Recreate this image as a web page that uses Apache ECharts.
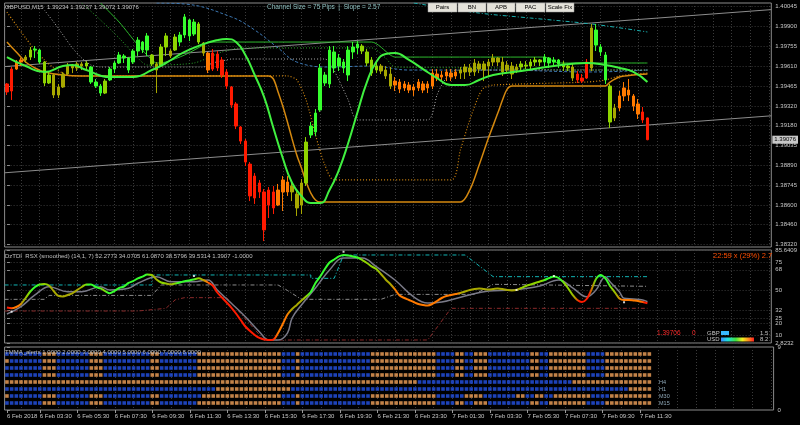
<!DOCTYPE html>
<html><head><meta charset="utf-8">
<script src="https://cdn.jsdelivr.net/npm/echarts@6/dist/echarts.min.js"></script>
<style>html,body{margin:0;padding:0;background:#000;}#c{width:800px;height:425px;}</style>
</head><body><div id="c"></div>
<script>
// ---------- DATA ----------
const opens = [1.39480,1.39429,1.39588,1.39639,1.39654,1.39675,1.39726,1.39726,1.39639,1.39487,
1.39545,1.39400,1.39458,1.39552,1.39610,1.39596,1.39625,1.39610,1.39603,1.39494,
1.39465,1.39414,1.39509,1.39588,1.39632,1.39683,1.39668,1.39639,1.39719,1.39784,
1.39726,1.39690,1.39625,1.39610,1.39748,1.39719,1.39726,1.39784,1.39835,1.39944,
1.39842,1.39915,1.39777,1.39704,1.39588,1.39697,1.39654,1.39567,1.39458,1.39335,
1.39168,1.39066,1.38899,1.38812,1.38762,1.38697,1.38602,1.38697,1.38602,1.38697,
1.38769,1.38697,1.38682,1.38602,1.38762,1.39110,1.39132,1.39291,1.39545,1.39480,
1.39712,1.39610,1.39639,1.39545,1.39712,1.39741,1.39755,1.39712,1.39654,1.39581,
1.39610,1.39581,1.39552,1.39472,1.39494,1.39451,1.39472,1.39436,1.39451,1.39480,
1.39451,1.39465,1.39552,1.39530,1.39538,1.39559,1.39538,1.39559,1.39567,1.39596,
1.39567,1.39625,1.39581,1.39610,1.39639,1.39668,1.39639,1.39581,1.39610,1.39581,
1.39603,1.39617,1.39610,1.39639,1.39654,1.39639,1.39668,1.39639,1.39654,1.39625,
1.39610,1.39603,1.39552,1.39523,1.39523,1.39596,1.39871,1.39748,1.39690,1.39465,
1.39233,1.39306,1.39393,1.39436,1.39393,1.39335,1.39277,1.39234];
const highs = [1.39487,1.39603,1.39654,1.39668,1.39690,1.39748,1.39755,1.39733,1.39646,1.39567,
1.39552,1.39480,1.39567,1.39632,1.39625,1.39639,1.39639,1.39646,1.39610,1.39516,
1.39480,1.39516,1.39603,1.39646,1.39712,1.39697,1.39675,1.39733,1.39820,1.39791,
1.39849,1.39697,1.39639,1.39769,1.39849,1.39733,1.39842,1.39857,1.39987,1.39951,
1.39951,1.39929,1.39784,1.39712,1.39733,1.39719,1.39675,1.39588,1.39465,1.39349,
1.39175,1.39081,1.38914,1.38834,1.38784,1.38718,1.38733,1.38740,1.38755,1.38812,
1.38812,1.38769,1.38718,1.38791,1.39095,1.39204,1.39298,1.39625,1.39567,1.39755,
1.39755,1.39697,1.39661,1.39755,1.39784,1.39791,1.39769,1.39733,1.39675,1.39639,
1.39625,1.39610,1.39603,1.39530,1.39516,1.39501,1.39494,1.39480,1.39516,1.39501,
1.39501,1.39588,1.39588,1.39574,1.39588,1.39588,1.39588,1.39603,1.39625,1.39625,
1.39661,1.39646,1.39646,1.39661,1.39697,1.39675,1.39675,1.39646,1.39639,1.39625,
1.39646,1.39646,1.39661,1.39675,1.39661,1.39697,1.39675,1.39675,1.39661,1.39646,
1.39625,1.39625,1.39574,1.39552,1.39661,1.39915,1.39915,1.39769,1.39712,1.39480,
1.39335,1.39429,1.39494,1.39516,1.39407,1.39371,1.39313,1.39237];
const lows = [1.39400,1.39364,1.39581,1.39610,1.39632,1.39654,1.39668,1.39625,1.39465,1.39480,
1.39378,1.39378,1.39451,1.39545,1.39559,1.39574,1.39581,1.39588,1.39480,1.39451,
1.39393,1.39407,1.39501,1.39559,1.39625,1.39632,1.39559,1.39625,1.39683,1.39704,
1.39683,1.39610,1.39414,1.39603,1.39683,1.39668,1.39719,1.39755,1.39813,1.39791,
1.39828,1.39769,1.39683,1.39559,1.39574,1.39574,1.39523,1.39443,1.39306,1.39153,
1.39045,1.38885,1.38631,1.38610,1.38653,1.38341,1.38508,1.38537,1.38595,1.38559,
1.38668,1.38631,1.38523,1.38537,1.38740,1.39088,1.39103,1.39277,1.39465,1.39451,
1.39559,1.39574,1.39559,1.39501,1.39661,1.39697,1.39697,1.39610,1.39538,1.39559,
1.39552,1.39516,1.39443,1.39429,1.39414,1.39429,1.39414,1.39393,1.39429,1.39414,
1.39414,1.39443,1.39501,1.39501,1.39501,1.39501,1.39516,1.39516,1.39516,1.39538,
1.39538,1.39559,1.39501,1.39538,1.39610,1.39610,1.39538,1.39559,1.39516,1.39559,
1.39574,1.39588,1.39588,1.39610,1.39610,1.39610,1.39596,1.39610,1.39596,1.39574,
1.39574,1.39501,1.39487,1.39487,1.39516,1.39574,1.39719,1.39683,1.39480,1.39161,
1.39211,1.39284,1.39356,1.39356,1.39284,1.39226,1.39197,1.39072];
const closes = [1.39422,1.39588,1.39639,1.39654,1.39675,1.39726,1.39733,1.39639,1.39487,1.39545,
1.39400,1.39458,1.39552,1.39610,1.39596,1.39625,1.39610,1.39632,1.39494,1.39465,
1.39414,1.39501,1.39588,1.39632,1.39690,1.39668,1.39581,1.39719,1.39798,1.39726,
1.39828,1.39625,1.39581,1.39748,1.39828,1.39683,1.39820,1.39835,1.39966,1.39828,
1.39929,1.39784,1.39704,1.39581,1.39704,1.39596,1.39545,1.39465,1.39327,1.39175,
1.39066,1.38914,1.38668,1.38653,1.38697,1.38422,1.38711,1.38581,1.38711,1.38784,
1.38697,1.38740,1.38581,1.38762,1.39059,1.39175,1.39269,1.39596,1.39487,1.39726,
1.39596,1.39668,1.39596,1.39726,1.39748,1.39769,1.39719,1.39632,1.39559,1.39610,
1.39574,1.39538,1.39465,1.39501,1.39443,1.39480,1.39436,1.39458,1.39494,1.39436,
1.39480,1.39559,1.39523,1.39545,1.39567,1.39530,1.39567,1.39581,1.39603,1.39567,
1.39632,1.39588,1.39625,1.39639,1.39668,1.39639,1.39567,1.39617,1.39552,1.39603,
1.39625,1.39610,1.39639,1.39654,1.39639,1.39675,1.39632,1.39654,1.39625,1.39603,
1.39596,1.39523,1.39509,1.39501,1.39639,1.39886,1.39762,1.39712,1.39509,1.39204,
1.39306,1.39393,1.39451,1.39400,1.39320,1.39262,1.39219,1.39076];
// trend state of each bar (-2 strong down ... 2 strong up)
const trendState = [-2,-2,-1,-1,0,1,2,2,1,1, 0,0,0,0,0,0,0,1,2,2, 2,1,2,2,2,2,2,2,2,2,
2,1,0,1,1,0,1,2,2,2, 2,1,0,-1,-2,-2,-2,-2,-2,-2, -2,-2,-2,-2,-2,-2,-2,-2,-1,-1,
-1,0,0,0,1,2,2,2,2,2, 2,2,2,2,2,2,1,1,1,1, 0,0,0,-1,-1,-1,-1,-1,-1,-1,
-1,-1,-1,-1,-1,-1,-1,0,0,0, 0,0,0,0,0,0,0,0,0,0, 1,1,1,1,1,2,2,2,2,1,
1,0,-2,-2,-2,0,2,2,2,1, 0,-1,-1,-1,-1,-1,-2,-2];

// main-panel indicator lines: [bar, price]
const smaGreen = [[0,1.39675],[4,1.39610],[8,1.39567],[12,1.39610],[14,1.39617],[17,1.39581],[22,1.39530],[27,1.39530],[31,1.39581],[34,1.39632],[38,1.39712],[42,1.39769],[45,1.39798],[47,1.39806],[49,1.39784],[51,1.39690],[53,1.39545],[55,1.39386],[57,1.39161],[59,1.38943],[61,1.38762],[63,1.38668],[65,1.38617],[67,1.38617],[69,1.38711],[71,1.38856],[73,1.39052],[75,1.39277],[77,1.39494],[79,1.39639],[81,1.39697],[83,1.39704],[86,1.39654],[89,1.39588],[92,1.39523],[95,1.39472],[98,1.39472],[101,1.39509],[104,1.39545],[110,1.39574],[117,1.39610],[124,1.39632],[128,1.39617],[131,1.39596],[134,1.39567],[137,1.39494]];
const orangeSolid = [[0,1.39784],[2,1.39712],[4,1.39639],[6,1.39596],[8,1.39567],[12,1.39545],[16,1.39538],[56,1.39538],[57,1.39516],[58,1.39422],[59,1.39320],[60,1.39204],[61,1.39081],[62,1.38965],[63,1.38870],[64,1.38769],[65,1.38689],[66,1.38639],[67,1.38624],[97,1.38624],[99,1.38711],[101,1.38892],[103,1.39088],[105,1.39269],[106,1.39364],[107,1.39443],[108,1.39465],[128,1.39465],[129,1.39494],[131,1.39530],[134,1.39545],[137,1.39552]];
const orangeDotted = [[0,1.40001],[2,1.39907],[4,1.39813],[6,1.39726],[8,1.39654],[10,1.39596],[12,1.39559],[14,1.39538],[60,1.39538],[62,1.39509],[64,1.39364],[66,1.39110],[68,1.38892],[70,1.38784],[95,1.38784],[97,1.39001],[99,1.39219],[101,1.39400],[102,1.39451],[104,1.39472],[124,1.39494],[128,1.39509],[131,1.39538],[137,1.39559]];
const grayDotted = [[8,1.40016],[10,1.39929],[12,1.39835],[14,1.39741],[16,1.39668],[18,1.39617],[20,1.39603],[42,1.39603],[44,1.39632],[47,1.39654],[48,1.39661],[68,1.39661],[69,1.39639],[71,1.39509],[73,1.39364],[75,1.39219],[90,1.39219],[92,1.39400],[93,1.39472],[95,1.39567],[97,1.39581],[137,1.39581]];
const thinGreen = [[20,1.40067],[24,1.39929],[28,1.39762],[31,1.39654],[32,1.39632],[34,1.39639],[38,1.39690],[42,1.39762],[43,1.39784],[78,1.39784],[82,1.39690],[83,1.39675],[115,1.39675],[118,1.39632],[137,1.39632]];
const greenDotted = [[16,1.40067],[20,1.39944],[24,1.39813],[28,1.39668],[30,1.39617],[40,1.39632],[46,1.39712],[50,1.39741],[78,1.39741],[81,1.39668],[83,1.39603],[105,1.39596],[120,1.39581],[137,1.39581]];
const blueDashed = [[32,1.40067],[38,1.40060],[48,1.39966],[53,1.39871],[58,1.39741],[62,1.39639],[69,1.39603],[78,1.39610],[86,1.39581],[105,1.39581],[125,1.39567],[137,1.39581]];
const cyanDashDot = [[87,1.40067],[101,1.39994],[112,1.39958],[125,1.39915],[137,1.39857]];
const channelUpper = [[-0.5,1.39606],[163.5,1.40019]];
const channelLower = [[-0.5,1.38836],[163.5,1.39249]];
const priceTicks = [1.40045,1.39900,1.39755,1.39610,1.39465,1.39320,1.39180,1.39035,1.38890,1.38745,1.38600,1.38460,1.38320];

// RSX panel
const rsx = [34.4,33.7,34.9,37.6,42.9,48.7,52.7,54.9,55.4,54.0,
49.1,44.7,44.2,45.6,47.1,50.0,52.7,54.9,54.9,52.7,
51.4,49.1,47.1,49.1,51.8,53.1,56.3,58.0,60.3,62.0,
63.8,63.4,59.4,56.7,55.8,55.1,55.8,56.7,57.9,58.5,
59.4,60.4,58.9,56.7,54.0,47.8,43.3,38.9,34.4,29.1,
23.3,17.5,13.5,10.0,7.3,5.9,5.5,5.9,11.7,19.7,
28.2,33.1,36.7,40.7,44.2,48.2,56.3,62.0,68.7,74.5,
77.2,79.9,81.2,80.7,79.9,79.0,76.7,74.1,71.0,68.7,
64.3,59.4,55.4,50.5,45.1,42.9,41.1,39.3,37.6,36.7,
36.2,37.6,40.2,42.9,44.7,45.6,46.5,47.4,48.7,50.0,
50.9,51.4,50.9,50.5,50.9,51.4,50.9,50.0,49.6,50.0,
51.8,53.6,54.9,56.3,57.6,58.9,60.7,62.0,60.7,57.1,
51.8,45.6,41.1,39.3,42.0,50.0,59.8,63.4,60.3,53.6,
48.2,42.5,41.1,41.1,40.7,40.2,39.3,38.2];
const rsxSignal = [[0,28.6],[3,35.2],[6,45.6],[9,53.0],[13,48.5],[16,48.5],[20,53.0],[22,50.0],[26,51.5],[28,56.0],[32,61.9],[35,57.4],[40,57.4],[43,58.9],[45,50.0],[48,38.2],[51,26.2],[54,12.9],[56,5.5],[58,5.5],[60,11.7],[61,25.1],[63,36.7],[66,51.8],[69,67.8],[72,78.5],[76,78.5],[79,70.8],[83,58.9],[87,43.8],[90,38.4],[93,39.3],[98,44.7],[103,49.1],[108,50.0],[114,53.6],[118,58.9],[121,52.0],[124,44.0],[126,50.0],[128,61.9],[129,57.4],[131,48.5],[132,42.6],[134,42.0],[136,41.1],[137,39.6]];
const rsxTurns = [[1,30.7],[40,62.5],[72,84.1],[109,50.0],[117,62.5],[132,39.1]];
const levelCyan = [[-0.5,54.5],[31,54.5],[31,63.4],[65,63.4],[65,60.4],[70,60.4],[72,81.2],[98,81.2],[104,61.9],[137,61.9]];
const levelGray = [[-0.5,41.7],[8,41.7],[9,45.2],[31,45.2],[33,54.5],[58,54.5],[60,49.6],[63,41.7],[80,41.7],[83,46.1],[100,46.1],[104,55.1],[137,53.3]];
const levelRed = [[-0.5,31.3],[28,31.3],[34,33.7],[36,41.3],[38,43.2],[47,43.2],[55,5.5],[90,5.5],[95,33.7],[137,33.7]];
const rsxTicks = [85.6409,75,68,50,32,25,20,10,2.8232];

// TMMA panel: 8 rows of run-length states (b = blue, o = orange)
const tmmaRows = [
 'b8 o3 b7 o3 b10 o2 b8 o18 b3 o1 b15 o14 b4 o2 b2 o3 b9 o2 b2 o8 b4 o10',
 'o1 b7 o3 b7 o3 b10 o2 b8 o18 b3 o1 b15 o14 b4 o2 b2 o3 b9 o2 b2 o8 b4 o10',
 'b8 o3 b7 o3 b10 o2 b8 o18 b3 o1 b15 o14 b4 o2 b2 o3 b9 o2 b2 o8 b4 o10',
 'b8 o3 b7 o3 b10 o2 b8 o18 b3 o1 b15 o14 b4 o2 b2 o3 b9 o2 b2 o8 b4 o10',
 'o88 b33 o17',
 'b45 o16 b72 o5',
 'o1 b7 o3 b7 o3 b10 o2 b9 o17 b3 o1 b15 o14 b6 o4 b7 o2 b2 o2 b2 o8 b4 o9',
 'b8 o3 b7 o3 b10 o2 b8 o18 b3 o1 b15 o14 b4 o2 b2 o3 b9 o2 b2 o8 b4 o10'
];
const tmmaRowNames = ['', '', '', '', 'H4', 'H1', 'M30', 'M15'];

// time axis labels
const labelBars = [0,7,15,23,31,39,47,55,63,71,79,87,95,103,111,119,127,135];
const timeLabels = ['6 Feb 2018','6 Feb 03:30','6 Feb 05:30','6 Feb 07:30','6 Feb 09:30','6 Feb 11:30','6 Feb 13:30','6 Feb 15:30','6 Feb 17:30','6 Feb 19:30','6 Feb 21:30','6 Feb 23:30','7 Feb 01:30','7 Feb 03:30','7 Feb 05:30','7 Feb 07:30','7 Feb 09:30','7 Feb 11:30'];

// ---------- CHART ----------
const FONT = 'Liberation Sans, Arial, sans-serif';
const N = closes.length;
const SLOTS = 164;
const stateColors = {'-2':'#ff1a00','-1':'#ff7a00','0':'#a8a800','1':'#8fd400','2':'#36ff2e'};
const gridTicks = []; for (let v = 3; v < SLOTS; v += 4) gridTicks.push(v);
const labelMap = {}; labelBars.forEach((b, k) => labelMap[b] = timeLabels[k]);

const candleData = closes.map((c, i) => {
  const col = stateColors[trendState[i]];
  return {value: [i, opens[i], c, lows[i], highs[i]], itemStyle: {color: col, color0: col, borderColor: col, borderColor0: col, borderWidth: 1}};
});
const rsxData = rsx.map((v, i) => [i, v]);
const rsxStops = rsx.map((v, i) => ({offset: i / (N - 1), color: stateColors[trendState[i]]}));
const lastClose = closes[N - 1];

const blueSq = [], orangeSq = [];
tmmaRows.forEach((s, r) => {
  let i = 0;
  s.split(' ').forEach(t => {
    const c = t[0], n = +t.slice(1);
    for (let k = 0; k < n; k++, i++) (c === 'b' ? blueSq : orangeSq).push([i, 8 - r]);
  });
});

const DOT = [1, 2], DASHDOT = [4, 2, 1, 2];
function xAx(gi) {
  return {type: 'value', gridIndex: gi, min: -0.5, max: SLOTS - 0.5,
    axisLine: {show: false}, axisTick: {show: false, customValues: gridTicks},
    axisLabel: {show: false, customValues: gridTicks},
    splitLine: {show: true, lineStyle: {color: '#3b3b3b', type: DOT, width: 1}}};
}
function yAx(gi, min, max, ticks, fmt) {
  return {type: 'value', gridIndex: gi, min: min, max: max, position: 'right',
    axisLine: {show: false},
    axisTick: {show: true, length: 3, customValues: ticks, lineStyle: {color: '#8a8a8a'}},
    axisLabel: {customValues: ticks, formatter: fmt, color: '#c8c8c8', fontSize: 6, margin: 4, fontFamily: FONT},
    splitLine: {show: true, lineStyle: {color: '#3b3b3b', type: DOT, width: 1}}};
}
function line(data, color, width, type, smooth, xi, yi, z) {
  return {type: 'line', data: data, xAxisIndex: xi || 0, yAxisIndex: yi || 0, symbol: 'none', smooth: smooth || false,
    lineStyle: {color: color, width: width, type: type || 'solid'}, silent: true, z: z || 3};
}

const gridBase = {left: 4.6, width: 769, show: true, borderColor: '#8a8a8a', borderWidth: 1, backgroundColor: '#000'};
const option = {
  backgroundColor: '#000',
  animation: false,
  grid: [
    Object.assign({top: 3, height: 244}, gridBase),
    Object.assign({top: 250, height: 93}, gridBase),
    Object.assign({top: 347, height: 63}, gridBase)
  ],
  xAxis: [xAx(0), xAx(1), xAx(2),
    {type: 'value', gridIndex: 2, min: -0.5, max: SLOTS - 0.5, position: 'bottom',
     axisLine: {show: false}, splitLine: {show: false},
     axisTick: {show: true, length: 3, customValues: labelBars, lineStyle: {color: '#9a9a9a'}},
     axisLabel: {customValues: labelBars, formatter: v => labelMap[v] || '', align: 'left', color: '#c8c8c8', fontSize: 6, margin: 3, fontFamily: FONT}}
  ],
  yAxis: [
    yAx(0, 1.38298, 1.40067, priceTicks, v => v.toFixed(5)),
    yAx(1, 2.8232, 85.6409, rsxTicks, v => (Math.round(v) === v ? String(v) : v.toFixed(4))),
    Object.assign(yAx(2, 0, 9, [0, 9], v => String(v)), {splitLine: {show: false}})
  ],
  series: [
    line(channelUpper, '#8c8c8c', 1, 'solid', false, 0, 0, 2),
    line(channelLower, '#8c8c8c', 1, 'solid', false, 0, 0, 2),
    {type: 'candlestick', xAxisIndex: 0, yAxisIndex: 0, data: candleData, barWidth: 3, encode: {x: 0, y: [1, 2, 3, 4]}, z: 3, silent: true},
    {type: 'line', xAxisIndex: 0, yAxisIndex: 0, data: [[-0.5, lastClose], [SLOTS - 0.5, lastClose]], symbol: 'none', silent: true,
     lineStyle: {opacity: 0}, z: 20,
     endLabel: {show: true, formatter: p => p.value[1].toFixed(5), color: '#000', backgroundColor: '#c8c8c8', fontSize: 6, padding: [1, 2], distance: 1, fontFamily: FONT}},
    line(blueDashed, '#3c78b4', 1, [3, 2], 0.4),
    line(cyanDashDot, '#1ab0b0', 1, DASHDOT, 0.3),
    line(greenDotted, '#2ca82c', 1, DOT, 0.25),
    line(thinGreen, '#2db82d', 1, 'solid', 0.25),
    line(grayDotted, '#b0b0b0', 1, DOT, 0.25),
    line(orangeDotted, '#d4880f', 1.2, DOT, 0.25),
    line(orangeSolid, '#d4880f', 1.5, 'solid', 0.3),
    line(smaGreen, '#40f040', 2, 'solid', 0.5, 0, 0, 5),

    line(levelRed, '#8b2a2a', 1, DASHDOT, false, 1, 1),
    line(levelGray, '#8a8a8a', 1, DASHDOT, false, 1, 1),
    line(levelCyan, '#12b4b4', 1, DASHDOT, false, 1, 1),
    line(rsxSignal, '#7a7a88', 1.5, 'solid', 0.4, 1, 1),
    {type: 'line', xAxisIndex: 1, yAxisIndex: 1, data: rsxData, symbol: 'none', smooth: 0.3, silent: true, z: 5,
     lineStyle: {width: 2, color: {type: 'linear', x: 0, y: 0, x2: 1, y2: 0, colorStops: rsxStops}}},
    {type: 'scatter', xAxisIndex: 1, yAxisIndex: 1, data: rsxTurns, symbol: 'rect', symbolSize: 2, itemStyle: {color: '#ffffff'}, silent: true, z: 6},

    {type: 'scatter', xAxisIndex: 2, yAxisIndex: 2, data: blueSq, symbol: 'rect', symbolSize: 3.6, itemStyle: {color: '#2453e6'}, silent: true},
    {type: 'scatter', xAxisIndex: 2, yAxisIndex: 2, data: orangeSq, symbol: 'rect', symbolSize: 3.6, itemStyle: {color: '#f2a35a'}, silent: true}
  ],
  graphic: [
    {type: 'text', left: 5, top: 4, style: {text: 'GBPUSD,M15  1.39234 1.39237 1.39072 1.39076', fill: '#c8c8c8', font: '6px ' + FONT}, z: 100},
    {type: 'text', left: 267, top: 4, style: {text: 'Channel Size = 75 Pips  |  Slope = 2.57', fill: '#8fc0c0', font: '6.5px ' + FONT}, z: 100},
    ...[['Pairs', 428, 29], ['BN', 458, 28], ['APB', 487, 28], ['PAC', 516, 29], ['Scale Fix', 546, 28]].flatMap(b => [
      {type: 'rect', shape: {x: b[1], y: 3, width: b[2], height: 9}, style: {fill: '#e4e2da', stroke: '#9a9a9a', lineWidth: 0.5}, z: 100},
      {type: 'text', x: b[1] + b[2] / 2, y: 7.5, style: {text: b[0], fill: '#000', font: '6px ' + FONT, align: 'center', verticalAlign: 'middle'}, z: 101}
    ]),
    {type: 'text', left: 5, top: 253, style: {text: 'DzTDI  RSX (smoothed) (14,1, 7) 52.2773 34.0705 61.0870 38.5796 39.5314 1.3907 -1.0000', fill: '#c0c0c0', font: '6px ' + FONT}, z: 100},
    {type: 'text', left: 713, top: 252, style: {text: '22:59 x (29%) 2.7', fill: '#ff4d00', font: '7.5px ' + FONT}, z: 100},
    {type: 'text', left: 657, top: 330, style: {text: '1.39706', fill: '#ff2a2a', font: '6.5px ' + FONT}, z: 100},
    {type: 'text', left: 692, top: 330, style: {text: '0', fill: '#ff2a2a', font: '6.5px ' + FONT}, z: 100},
    {type: 'text', left: 707, top: 330, style: {text: 'GBP', fill: '#c0c0c0', font: '6px ' + FONT}, z: 100},
    {type: 'text', left: 707, top: 336.5, style: {text: 'USD', fill: '#c0c0c0', font: '6px ' + FONT}, z: 100},
    {type: 'rect', shape: {x: 721, y: 331, width: 8, height: 4}, style: {fill: '#38b8ff'}, z: 100},
    {type: 'rect', shape: {x: 721, y: 337.5, width: 33, height: 4}, style: {fill: {type: 'linear', x: 0, y: 0, x2: 1, y2: 0, colorStops: [{offset: 0, color: '#3a8cff'}, {offset: 0.2, color: '#20e0e0'}, {offset: 0.45, color: '#40e040'}, {offset: 0.65, color: '#f0f020'}, {offset: 0.85, color: '#ff8020'}, {offset: 1, color: '#ff2020'}]}}, z: 100},
    {type: 'text', left: 760, top: 330, style: {text: '1.5', fill: '#c0c0c0', font: '6px ' + FONT}, z: 100},
    {type: 'text', left: 760, top: 336.5, style: {text: '8.2', fill: '#c0c0c0', font: '6px ' + FONT}, z: 100},
    {type: 'text', left: 5, top: 349, style: {text: 'TMMA_alerts 1.0000 2.0000 3.0000 4.0000 5.0000 6.0000 7.0000 8.0000', fill: '#c0c0c0', font: '6px ' + FONT}, z: 100},
    ...tmmaRowNames.map((nm, r) => ({type: 'text', left: 659, top: 351.5 + r * 6.96, style: {text: nm, fill: '#8fa8b8', font: '5.5px ' + FONT}, z: 100}))
  ]
};
const chart = echarts.init(document.getElementById('c'), null, {renderer: 'canvas', width: 800, height: 425});
chart.setOption(option);
</script>
</body></html>
